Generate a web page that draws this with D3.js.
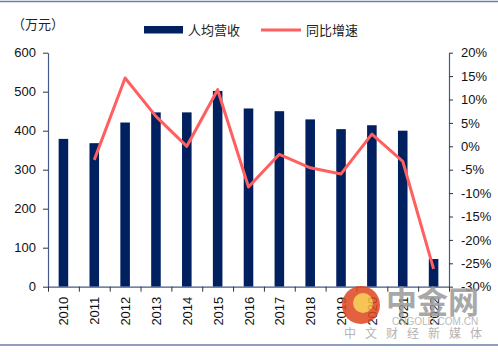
<!DOCTYPE html>
<html>
<head>
<meta charset="utf-8">
<script src="https://cdn.jsdelivr.net/npm/d3@7"></script>
<style>
  body { margin: 0; background: #fff; }
  svg { display: block; }
</style>
</head>
<body>
<svg></svg>
<script>
// Chart data
const years = ["2010", "2011", "2012", "2013", "2014", "2015", "2016",
               "2017", "2018", "2019", "2020", "2021", "2022"];
const revenue = [379, 368, 421, 447, 447, 502, 457, 450, 429, 404, 414, 400, 71];
const growth = [null, -2.9, 14.6, 6.4, 0.0, 12.1, -8.7, -1.7, -4.6, -5.9, 2.6, -3.2, -26.2];
const leftTicks = [0, 100, 200, 300, 400, 500, 600];
const rightTicks = [20, 15, 10, 5, 0, -5, -10, -15, -20, -25, -30];

const svgWidth = 498;
const svgHeight = 352;
const plot = { left: 48, right: 449, top: 52.7, bottom: 286.7 };

const barColor = "#002060";
const lineColor = "#ff5f5f";
const axisColor = "#44598a";
const numFont = "'Liberation Sans', Arial, sans-serif";
const cjkFont = "'Noto Sans CJK SC', sans-serif";

const svg = d3.select("svg")
    .attr("width", svgWidth)
    .attr("height", svgHeight);

// Frame lines top and bottom
svg.append("line")
    .attr("x1", 0).attr("x2", svgWidth)
    .attr("y1", 1.5).attr("y2", 1.5)
    .attr("stroke", "#6a80a8").attr("stroke-width", 1.5);
svg.append("line")
    .attr("x1", 0).attr("x2", svgWidth)
    .attr("y1", 345).attr("y2", 345)
    .attr("stroke", "#6a80a8").attr("stroke-width", 1.5);

// Scales
const xScale = d3.scaleBand()
    .domain(years)
    .range([plot.left, plot.right])
    .paddingInner(0.69)
    .paddingOuter(0.345);

const xEdge = d3.scaleLinear()
    .domain([0, years.length])
    .range([plot.left, plot.right]);

const yLeft = d3.scaleLinear()
    .domain([0, 600])
    .range([plot.bottom, plot.top]);

const yRight = d3.scaleLinear()
    .domain([-30, 20])
    .range([plot.bottom, plot.top]);

// Bars
svg.append("g")
    .selectAll("rect")
    .data(revenue)
    .enter()
    .append("rect")
    .attr("x", (d, i) => xScale(years[i]))
    .attr("y", d => yLeft(d))
    .attr("width", xScale.bandwidth())
    .attr("height", d => yLeft(0) - yLeft(d))
    .attr("fill", barColor);

// Growth line
const line = d3.line()
    .defined(d => d.v !== null)
    .x(d => xScale(d.year) + xScale.bandwidth() / 2)
    .y(d => yRight(d.v));

svg.append("path")
    .datum(years.map((y, i) => ({ year: y, v: growth[i] })))
    .attr("d", line)
    .attr("fill", "none")
    .attr("stroke", lineColor)
    .attr("stroke-width", 3)
    .attr("stroke-linejoin", "round");

// Left axis
const leftAxis = svg.append("g")
    .attr("transform", `translate(${plot.left},0)`)
    .call(d3.axisLeft(yLeft).tickValues(leftTicks).tickSize(5).tickPadding(7).tickSizeOuter(0));

// Right axis
const rightAxis = svg.append("g")
    .attr("transform", `translate(${plot.right},0)`)
    .call(d3.axisRight(yRight).tickValues(rightTicks).tickSize(4).tickPadding(8).tickSizeOuter(0)
        .tickFormat(d => d + "%"));

// Bottom axis: ticks at category boundaries
const bottomAxis = svg.append("g")
    .attr("transform", `translate(0,${plot.bottom})`)
    .call(d3.axisBottom(xEdge).tickValues(d3.range(years.length + 1)).tickSize(5).tickFormat("").tickSizeOuter(0));

// Year labels, rotated
svg.append("g")
    .selectAll("text")
    .data(years)
    .enter()
    .append("text")
    .attr("transform", d => `translate(${xScale(d) + xScale.bandwidth() / 2 + 5},${plot.bottom + 10}) rotate(-90)`)
    .attr("text-anchor", "end")
    .attr("font-family", numFont)
    .attr("font-size", 13)
    .attr("fill", "#111")
    .text(d => d);

[leftAxis, rightAxis, bottomAxis].forEach(g => {
    g.selectAll(".domain").attr("stroke", axisColor).attr("stroke-width", 1.2);
    g.selectAll(".tick line").attr("stroke", "#333");
    g.selectAll(".tick text")
        .attr("font-family", numFont)
        .attr("font-size", 13)
        .attr("fill", "#111");
});

// Unit label
svg.append("text")
    .attr("x", 12).attr("y", 29)
    .attr("font-family", cjkFont)
    .attr("font-size", 13)
    .attr("fill", "#222")
    .text("（万元）");

// Legend
svg.append("rect")
    .attr("x", 144).attr("y", 26)
    .attr("width", 39).attr("height", 7.5)
    .attr("fill", barColor);
svg.append("text")
    .attr("x", 188).attr("y", 34.5)
    .attr("font-family", cjkFont)
    .attr("font-size", 13)
    .attr("fill", "#222")
    .text("人均营收");

svg.append("line")
    .attr("x1", 261).attr("x2", 301)
    .attr("y1", 30).attr("y2", 30)
    .attr("stroke", lineColor).attr("stroke-width", 3);
svg.append("text")
    .attr("x", 306).attr("y", 34.5)
    .attr("font-family", cjkFont)
    .attr("font-size", 13)
    .attr("fill", "#222")
    .text("同比增速");

// Watermark
const wm = svg.append("g").attr("opacity", 0.85);
wm.append("circle")
    .attr("cx", 361).attr("cy", 305).attr("r", 19)
    .attr("fill", "#e0461e");
wm.append("circle")
    .attr("cx", 363).attr("cy", 303).attr("r", 10)
    .attr("fill", "#f5b93a");
wm.append("text")
    .attr("x", 386).attr("y", 313)
    .attr("font-family", cjkFont)
    .attr("font-weight", "bold")
    .attr("font-size", 31)
    .attr("fill", "#9a9a9a")
    .text("中金网");
wm.append("text")
    .attr("x", 392).attr("y", 325)
    .attr("font-family", numFont)
    .attr("font-size", 10)
    .attr("fill", "#b0b0b0")
    .text("CNGOLD.COM.CN");
wm.append("text")
    .attr("x", 344).attr("y", 338)
    .attr("font-family", cjkFont)
    .attr("font-size", 12)
    .attr("letter-spacing", 9)
    .attr("fill", "#a8a8a8")
    .text("中文财经新媒体");
</script>
</body>
</html>
